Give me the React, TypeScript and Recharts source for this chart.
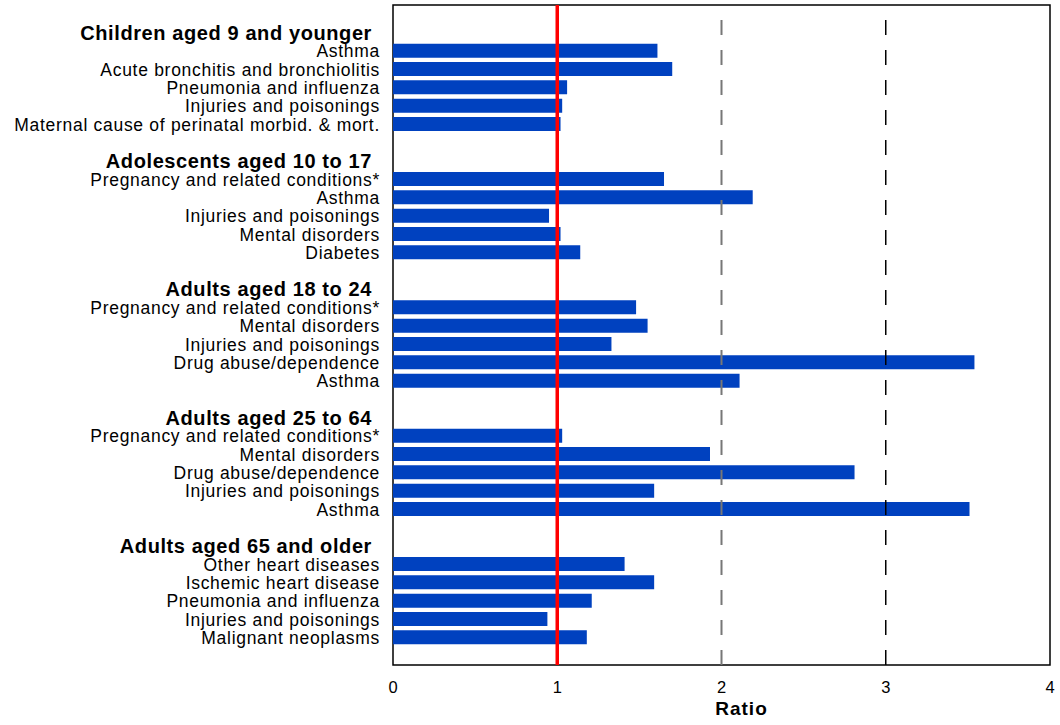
import React from "react";
import {
  BarChart,
  Bar,
  XAxis,
  YAxis,
  ReferenceLine,
  ReferenceArea,
} from "recharts";

const groupHeaders = [
  "Children aged 9 and younger",
  "Adolescents aged 10 to 17",
  "Adults aged 18 to 24",
  "Adults aged 25 to 64",
  "Adults aged 65 and older",
];

const group1Labels = [
  "Asthma",
  "Acute bronchitis and bronchiolitis",
  "Pneumonia and influenza",
  "Injuries and poisonings",
  "Maternal cause of perinatal morbid. & mort.",
];
const group1Values = [1.61, 1.7, 1.06, 1.03, 1.02];

const group2Labels = [
  "Pregnancy and related conditions*",
  "Asthma",
  "Injuries and poisonings",
  "Mental disorders",
  "Diabetes",
];
const group2Values = [1.65, 2.19, 0.95, 1.02, 1.14];

const group3Labels = [
  "Pregnancy and related conditions*",
  "Mental disorders",
  "Injuries and poisonings",
  "Drug abuse/dependence",
  "Asthma",
];
const group3Values = [1.48, 1.55, 1.33, 3.54, 2.11];

const group4Labels = [
  "Pregnancy and related conditions*",
  "Mental disorders",
  "Drug abuse/dependence",
  "Injuries and poisonings",
  "Asthma",
];
const group4Values = [1.03, 1.93, 2.81, 1.59, 3.51];

const group5Labels = [
  "Other heart diseases",
  "Ischemic heart disease",
  "Pneumonia and influenza",
  "Injuries and poisonings",
  "Malignant neoplasms",
];
const group5Values = [1.41, 1.59, 1.21, 0.94, 1.18];

const xTicks = [0, 1, 2, 3, 4];
const xAxisTitle = "Ratio";

const groupLabels = [group1Labels, group2Labels, group3Labels, group4Labels, group5Labels];
const groupValues = [group1Values, group2Values, group3Values, group4Values, group5Values];

type Row = { key: string; label: string; kind: "blank" | "header" | "item"; value?: number };

const rows: Row[] = [];
rows.push({ key: "b-top", label: "", kind: "blank" });
groupHeaders.forEach((h, gi) => {
  if (gi > 0) rows.push({ key: `b-${gi}`, label: "", kind: "blank" });
  rows.push({ key: `h-${gi}`, label: h, kind: "header" });
  groupLabels[gi].forEach((l, i) => {
    rows.push({ key: `i-${gi}-${i}`, label: l, kind: "item", value: groupValues[gi][i] });
  });
});
rows.push({ key: "b-end", label: "", kind: "blank" });

const rowMap: Record<string, Row> = {};
rows.forEach((r) => (rowMap[r.key] = r));

const FONT = "'Liberation Sans', Arial, Helvetica, sans-serif";

const YTick = (props: any) => {
  const { x, y, payload } = props;
  const r = rowMap[payload.value];
  if (!r || r.kind === "blank") return null;
  if (r.kind === "header") {
    return (
      <text
        x={x - 21}
        y={y}
        textAnchor="end"
        dominantBaseline="central"
        fontFamily={FONT}
        fontSize={20}
        fontWeight="bold"
        letterSpacing={0.6}
        fill="#000"
      >
        {r.label}
      </text>
    );
  }
  return (
    <text
      x={x - 13}
      y={y + 0.5}
      textAnchor="end"
      dominantBaseline="central"
      fontFamily={FONT}
      fontSize={17.5}
      letterSpacing={0.7}
      fill="#000"
    >
      {r.label}
    </text>
  );
};

const XTick = (props: any) => {
  const { x, y, payload } = props;
  return (
    <text
      x={x}
      y={y}
      textAnchor="middle"
      dominantBaseline="central"
      fontFamily={FONT}
      fontSize={16.5}
      fill="#000"
    >
      {payload.value}
    </text>
  );
};

const XTitle = (props: any) => {
  const vb = props.viewBox || {};
  return (
    <text
      x={vb.x + vb.width / 2 + 20}
      y={vb.y + 43.5}
      textAnchor="middle"
      dominantBaseline="central"
      fontFamily={FONT}
      fontSize={19}
      fontWeight="bold"
      letterSpacing={1}
      fill="#000"
    >
      {xAxisTitle}
    </text>
  );
};

export default function App() {
  return (
    <div style={{ position: "absolute", left: 0, top: 0, width: 1060, height: 725, background: "#fff" }}>
      <BarChart
        width={1060}
        height={725}
        data={rows}
        layout="vertical"
        margin={{ top: 5, right: 10, bottom: 0, left: 0 }}
        barSize={14}
      >
        <XAxis
          type="number"
          domain={[0, 4]}
          ticks={xTicks}
          allowDataOverflow
          axisLine={false}
          tickLine={false}
          tickSize={0}
          tickMargin={22}
          height={60}
          tick={<XTick />}
          label={<XTitle />}
        />
        <YAxis
          type="category"
          dataKey="key"
          width={393}
          axisLine={false}
          tickLine={false}
          tickSize={0}
          tickMargin={0}
          interval={0}
          tick={<YTick />}
        />
        <ReferenceLine x={2} stroke="#777" strokeWidth={2} strokeDasharray="15 15" />
        <ReferenceLine x={3} stroke="#000" strokeWidth={1.5} strokeDasharray="15 15" />
        <Bar dataKey="value" fill="#0041BF" isAnimationActive={false} />
        <ReferenceLine x={1} stroke="#ff0000" strokeWidth={3.5} />
        <ReferenceArea x1={0} x2={4} fill="none" stroke="#000" strokeWidth={1.5} ifOverflow="visible" />
      </BarChart>
    </div>
  );
}
